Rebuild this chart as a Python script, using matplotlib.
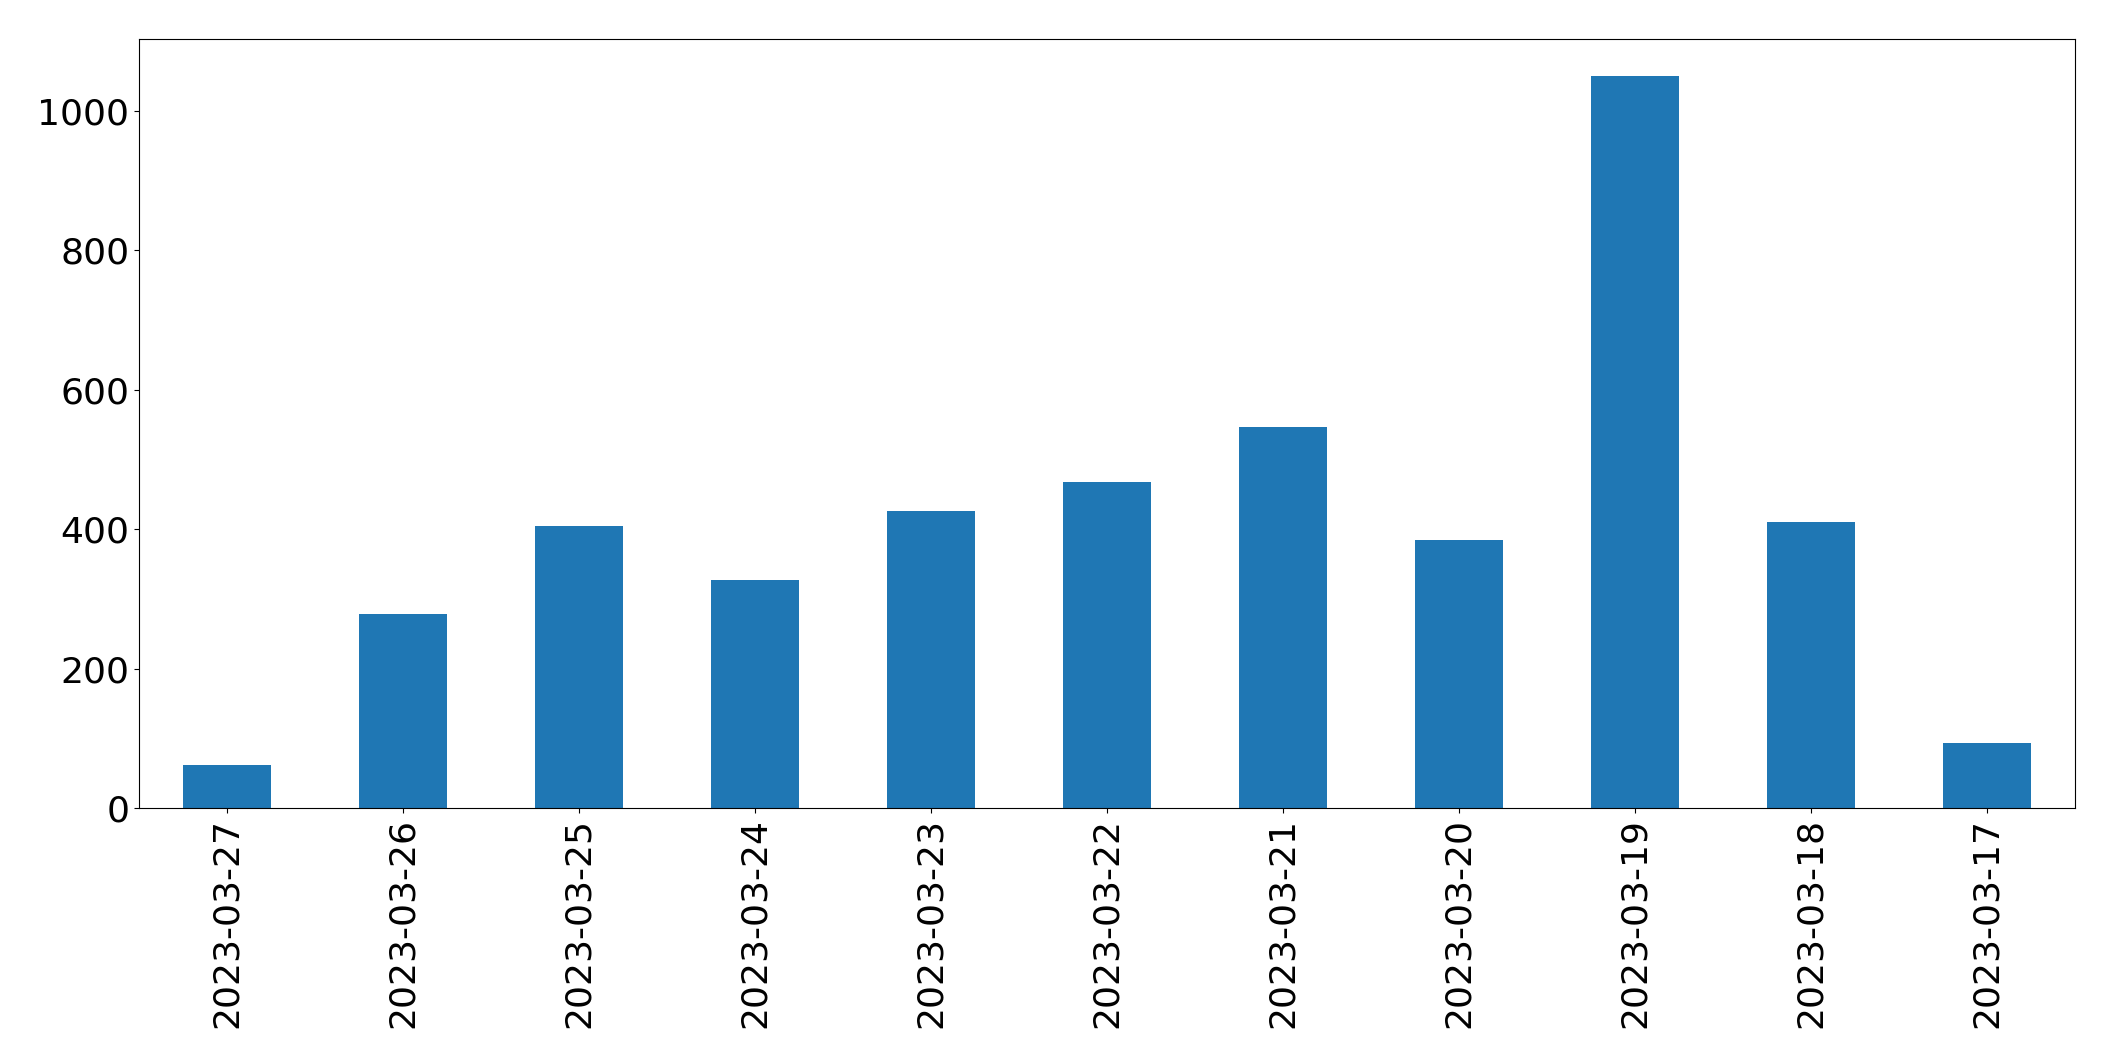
import matplotlib
matplotlib.use('Agg')
from matplotlib import pyplot as plt

dates = ['2023-03-27', '2023-03-26', '2023-03-25', '2023-03-24', '2023-03-23',
         '2023-03-22', '2023-03-21', '2023-03-20', '2023-03-19', '2023-03-18',
         '2023-03-17']
counts = [63, 279, 405, 328, 426, 468, 547, 385, 1050, 410, 94]

fig, ax = plt.subplots(figsize=(21.15, 10.61), dpi=100)
fig.subplots_adjust(left=0.0657, right=0.981, top=0.963, bottom=0.238)

x = range(len(dates))
ax.bar(x, counts, width=0.5, color='#1f77b4')
ax.set_xlim(-0.5, len(dates) - 0.5)
ax.set_xticks(list(x))
ax.set_xticklabels(dates, rotation=90)
ax.tick_params(labelsize=26)

fig.savefig('out.png')
